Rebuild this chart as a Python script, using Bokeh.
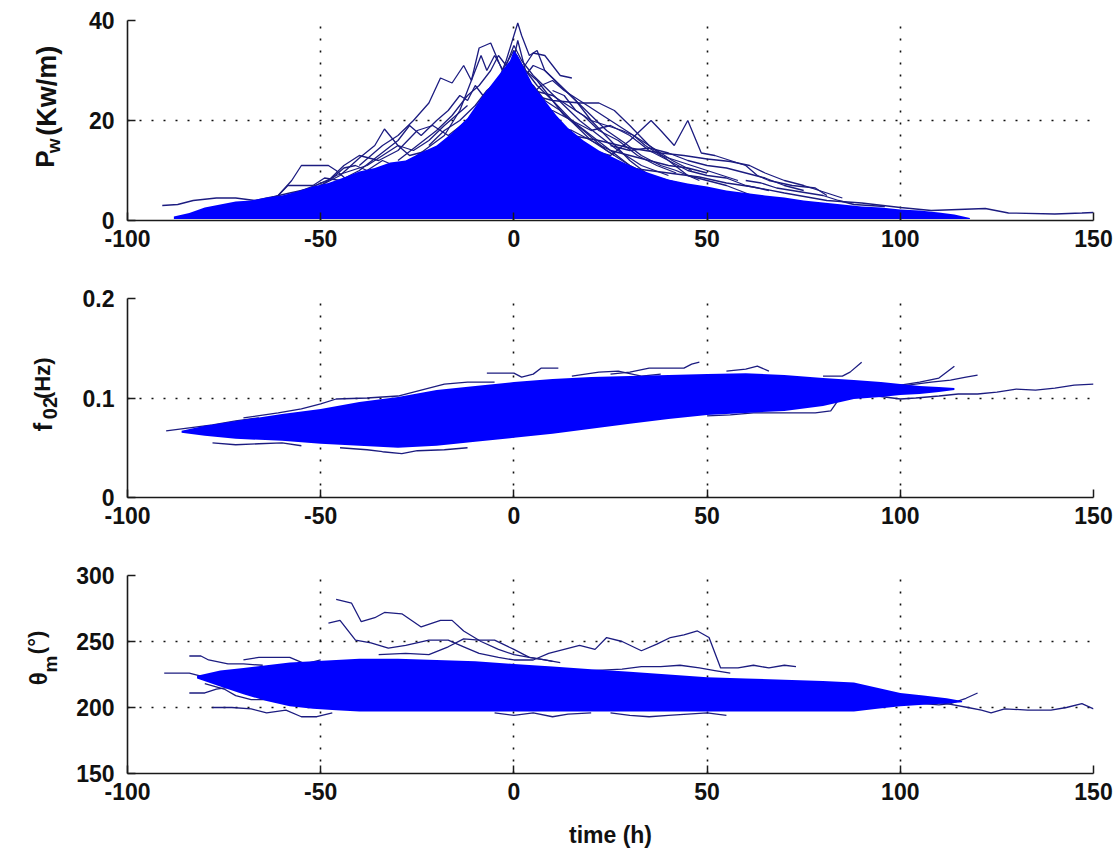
import math
from bokeh.plotting import figure
from bokeh.layouts import column, row
from bokeh.models import FixedTicker
from bokeh.core.properties import value
from bokeh.embed import file_html
from bokeh.resources import INLINE

# ---------------- data ----------------
TIME_TICKS = [-100, -50, 0, 50, 100, 150]
TIME_LABELS = {-100: "-100", -50: "-50", 0: "0", 50: "50", 100: "100", 150: "150"}

# Panel 1 : wave power Pw (Kw/m) -- dense core of the trajectories
PW_BAND_T = [-88, -84, -80, -76, -72, -68, -64, -60, -56, -52, -48, -44, -40, -36, -32, -28, -24, -20, -16, -12, -8, -5, -3, -1, 0, 1, 3, 5, 8, 11, 14, 18, 22, 26, 30, 35, 40, 45, 50, 55, 60, 65, 70, 75, 80, 85, 90, 95, 100, 105, 110, 114, 118]
PW_BAND_TOP = [0.8, 1.5, 2.6, 3.2, 3.8, 4.0, 4.6, 5.0, 5.8, 6.8, 7.5, 8.6, 9.8, 10.5, 11.6, 12.0, 13.6, 15.0, 17.5, 20.5, 25, 28, 30, 32, 34, 33, 30, 27, 24, 21, 18.5, 16, 14, 12.5, 11, 9.5, 8.2, 7.4, 6.8, 6.0, 5.5, 5.0, 4.6, 4.0, 3.6, 3.2, 2.8, 2.6, 2.2, 2.0, 1.6, 1.2, 0.5]
PW_BAND_BOT = [0.3] * len(PW_BAND_T)

# Panel 1 : individual trajectories (t [h], Pw)
PW_A = [(-40, 11), (-34, 15), (-30, 17), (-26, 20), (-22, 23.5), (-19, 28.5), (-16, 27.5), (-13, 31), (-11, 28), (-9, 34.5), (-6, 35.5), (-3, 30), (0, 34), (3, 30), (6, 27), (10, 24), (15, 20), (20, 17), (25, 14), (30, 11), (35, 9), (40, 7)]
PW_B = [(-20, 12), (-10, 20), (-5, 26), (-2, 32), (0, 37), (1, 39.5), (2, 37), (4, 33), (6, 34), (8, 30), (12, 27), (16, 24), (20, 20), (25, 16), (30, 12), (35, 9), (45, 7), (55, 5)]
PW_C = [(-15, 15), (-8, 22), (-3, 28), (2, 30), (5, 33.5), (8, 33), (10, 31), (12, 29), (15, 28.5)]
PW_D = [(-5, 20), (5, 25), (10, 24), (17, 23.5), (22, 23.5), (26, 22), (30, 19), (35, 15), (40, 12), (45, 9), (50, 8), (55, 7), (60, 5.5), (65, 4), (70, 3)]
PW_E = [(20, 14), (25, 13), (30, 16), (35.5, 20), (38, 18), (41.5, 15), (45, 20), (48.5, 13.5), (52, 13), (56, 12), (60, 11), (63, 9), (66, 8), (72, 7), (78, 6.5), (81, 5)]
PW_F = [(15, 17), (22, 16), (30, 14.5), (38, 13.5), (44, 13), (50, 12.3), (56, 11.8), (61, 11), (65, 9.5), (70, 8), (75, 7), (81, 5.5), (85, 4.5)]
PW_G = [(20, 12), (30, 10.5), (40, 9.5), (48, 8.7), (55, 7.5), (62, 6.7), (70, 5.5), (81, 4), (90, 3.5), (100, 2.6), (108, 2), (115, 2.2), (122, 2.4), (128, 1.5), (140, 1.3), (147, 1.5), (150, 1.6)]
PW_H = [(-75, 1.5), (-66, 2.5), (-61, 5), (-57.5, 8), (-55, 11), (-48, 11), (-46, 10), (-43, 8), (-38, 7), (-33, 6.5), (-28, 7)]
PW_I = [(-50, 7), (-45, 9), (-40, 12.5), (-36, 15), (-33.5, 18.3), (-30, 15), (-27, 13), (-22, 14), (-18, 12), (-14, 13), (-10, 11)]
PW_J = [(-62, 4), (-55, 6), (-48, 8), (-44, 11), (-40, 13), (-35, 12), (-30, 14), (-25, 18), (-21, 19), (-17, 17), (-12, 20), (-8, 24), (-4, 26), (0, 30), (3, 26), (6, 22)]
PW_K = [(-25, 13), (-18, 17), (-14, 22), (-11, 28), (-8.5, 33), (-7, 30), (-5, 33), (-2, 29), (0, 28), (3, 25), (7, 22), (12, 18), (18, 14), (24, 11), (30, 9)]
PW_L = [(-2, 25), (2, 28), (5, 31), (8, 30), (12, 27), (16, 24), (20, 21), (24, 18), (28.5, 15.6), (33, 13), (38, 11), (42, 10), (48, 8)]
PW_M = [(-66, 3), (-61, 5), (-58.5, 7), (-52, 7), (-49, 8.5), (-45, 8)]
PW_N = [(-91, 3), (-87, 3.2), (-83, 4), (-77, 4.5), (-72, 4.5), (-67, 4), (-62, 4.8), (-58, 5.5), (-52, 6.5)]
PW_O = [(-30, 8), (-20, 12), (-12, 16), (-6, 21), (-2, 25), (1, 27), (4, 24), (8, 20), (14, 16), (20, 13), (28, 10), (36, 8)]
PW_P = [(-15, 14), (-9, 19), (-4, 23), (-1, 29), (1, 36), (3, 30), (6, 28), (9, 25), (13, 21), (18, 18), (24, 14), (30, 11), (38, 8), (46, 6)]
PW_Q = [(-10, 16), (-6, 20), (-3, 24), (0, 33), (2, 27), (5, 23), (9, 19), (14, 15), (20, 12), (28, 9)]
PW_R = [(-45, 8), (-40, 10), (-35, 13), (-30, 16), (-27, 19), (-24, 17), (-20, 20), (-17, 22), (-14, 25), (-12, 24), (-10, 27), (-8, 25), (-5, 22), (-2, 20)]
PW_S = [(5, 20), (10, 22), (15, 20), (20, 18), (25, 19), (30, 17), (35, 14), (40, 12), (45, 10), (50, 9), (55, 8.5), (60, 7), (66, 6)]
PW_T = [(0, 22), (5, 26), (10, 25), (14, 23), (18, 21), (22, 18), (27, 16), (32, 13), (37, 11), (42, 9.5)]
PW_U = [(-60, 4), (-52, 6), (-46, 9), (-42, 10), (-38, 11), (-34, 13), (-30, 15), (-26, 14), (-22, 16), (-18, 19), (-15, 21), (-12, 23)]
PW_V = [(10, 26), (13, 25), (16, 22), (20, 20), (24, 19), (28, 18), (31, 17), (34, 15), (38, 13), (42, 12), (46, 11), (50, 10), (54, 9), (58, 8)]
PW_W = [(25, 15), (30, 14), (35, 14.5), (40, 13.5), (45, 12), (50, 11), (55, 10.5), (60, 9.5), (65, 8.5), (70, 7), (75, 6)]
PW_X = [(-35, 9), (-30, 11), (-26, 12.5), (-22, 11.8), (-19, 14), (-16, 16), (-13, 18), (-10, 17)]
PW_Y = [(60, 8), (64, 7.5), (68, 6.5), (72, 6), (76, 5.5), (80, 5), (84, 4), (88, 3.2), (92, 3), (96, 2.8)]
PW_Z = [(-55, 5.5), (-50, 7.5), (-47, 8.5), (-44, 10.5), (-41, 11), (-38, 10), (-34, 12), (-31, 11)]
PW_AA = [(-30, 12), (-25, 15), (-20, 18), (-16, 21), (-12, 25), (-9, 27), (-6, 30), (-4, 33), (-2, 31), (0, 35), (2, 32), (5, 29), (9, 26), (13, 23), (17, 20), (22, 17), (27, 14), (33, 11), (40, 9)]
PW_AB = [(-22, 15), (-18, 18), (-14, 20), (-10, 23), (-7, 26), (-4, 28), (-1, 26), (2, 29), (5, 27), (8, 24), (12, 22), (16, 19), (20, 16), (26, 13)]
PW_AC = [(3, 24), (7, 27), (10, 28), (13, 26), (17, 24), (21, 22), (25, 20), (29, 18), (33, 16), (37, 14), (41, 12), (46, 10)]
PW_AD = [(-8, 18), (-4, 21), (-1, 24), (2, 23), (6, 21), (10, 19), (15, 18), (20, 16), (25, 14), (30, 13), (35, 12), (40, 11), (45, 10.5), (50, 9.5)]
PW_LINES = [PW_A, PW_B, PW_C, PW_D, PW_E, PW_F, PW_G, PW_H, PW_I, PW_J, PW_K, PW_L, PW_M, PW_N,
            PW_O, PW_P, PW_Q, PW_R, PW_S, PW_T, PW_U, PW_V, PW_W, PW_X, PW_Y, PW_Z,
            PW_AA, PW_AB, PW_AC, PW_AD]

# Panel 2 : mean frequency f02 (Hz)
F_BAND_T = [-86, -80, -72, -60, -50, -40, -30, -20, -10, 0, 10, 20, 30, 40, 50, 60, 70, 80, 88, 95, 100, 105, 110, 114]
F_BAND_TOP = [0.067, 0.072, 0.077, 0.084, 0.089, 0.096, 0.101, 0.108, 0.112, 0.116, 0.119, 0.121, 0.122, 0.123, 0.124, 0.125, 0.123, 0.120, 0.118, 0.116, 0.114, 0.112, 0.111, 0.110]
F_BAND_BOT = [0.065, 0.062, 0.059, 0.057, 0.054, 0.052, 0.050, 0.052, 0.056, 0.060, 0.064, 0.069, 0.074, 0.079, 0.083, 0.085, 0.087, 0.092, 0.099, 0.101, 0.103, 0.104, 0.106, 0.108]

F_A = [(-70, 0.080), (-61, 0.085), (-55, 0.089), (-50, 0.094), (-46, 0.099), (-38, 0.100), (-30, 0.102), (-24, 0.108), (-18, 0.114), (-12, 0.116), (-5, 0.116)]
F_B = [(-7, 0.125), (0, 0.125), (2, 0.121), (5, 0.124), (7, 0.130), (11.5, 0.130)]
F_C = [(25, 0.124), (30, 0.126), (35, 0.130), (44, 0.130), (46, 0.134), (48, 0.136)]
F_D = [(15, 0.122), (22, 0.126), (27, 0.127), (33, 0.122), (38, 0.124)]
F_E = [(-45, 0.050), (-38, 0.048), (-34, 0.046), (-29, 0.044), (-25, 0.047), (-18, 0.048), (-12, 0.050)]
F_F = [(-78, 0.055), (-72, 0.053), (-66, 0.054), (-60, 0.055), (-55, 0.052)]
F_G = [(-90, 0.067), (-84, 0.070), (-78, 0.073), (-72, 0.077), (-66, 0.080)]
F_H = [(50, 0.082), (56, 0.083), (62, 0.085), (70, 0.085), (78, 0.085), (82, 0.087), (84, 0.098), (88, 0.101)]
F_I = [(90, 0.104), (96, 0.101), (100, 0.099), (104, 0.100), (110, 0.102), (115, 0.104), (120, 0.104), (125, 0.106), (130, 0.109), (135, 0.108), (140, 0.110), (145, 0.113), (150, 0.114)]
F_J = [(80, 0.122), (85, 0.122), (87, 0.126), (90, 0.136)]
F_K = [(100, 0.113), (105, 0.116), (110, 0.120), (114, 0.132)]
F_L = [(100, 0.112), (108, 0.116), (113, 0.118), (117, 0.121), (120, 0.123)]
F_M = [(55, 0.127), (60, 0.129), (63, 0.132), (66, 0.127)]
F_LINES = [F_A, F_B, F_C, F_D, F_E, F_F, F_G, F_H, F_I, F_J, F_K, F_L, F_M]

# Panel 3 : mean direction theta_m (deg)
D_BAND_T = [-82, -76, -70, -64, -58, -52, -46, -40, -30, -20, -10, 0, 10, 20, 30, 40, 50, 60, 70, 80, 88, 94, 100, 106, 112, 116]
D_BAND_TOP = [224, 228, 230, 232, 234, 235, 236, 237, 237, 236, 235, 233, 231, 229, 227, 225, 223, 222, 221, 220, 219, 215, 211, 209, 207, 205]
D_BAND_BOT = [222, 216, 210, 205, 201, 199, 198, 197, 197, 197, 197, 197, 197, 197, 197, 197, 197, 197, 197, 197, 197, 199, 201, 202, 203, 204]

D_A = [(-46, 282), (-42, 279), (-39.5, 265), (-36, 268), (-33.5, 272), (-29, 271), (-24, 261), (-19, 266), (-16, 266), (-13, 258), (-8.5, 250), (-4, 244), (0, 240), (4, 238), (8, 236), (10, 235)]
D_B = [(-48, 264), (-45, 266), (-41, 251), (-37, 249), (-32.5, 245), (-28, 247), (-22, 251), (-17, 251), (-13, 246), (-9, 241), (-4, 238), (0, 236), (5, 236), (9, 241), (13, 244), (17, 247), (21, 244), (24, 253), (28, 250), (33, 243), (37, 248), (40.5, 253), (44, 255), (47.5, 258), (50.5, 253), (53.5, 230), (58, 230), (62, 232), (66, 230), (70, 232), (73, 231)]
D_C = [(90, 210), (95, 208), (100, 206), (106, 205), (112, 203), (117.5, 200), (121, 198), (123.5, 196), (127, 199), (133, 198), (139, 198), (143, 200), (147, 203), (150, 199)]
D_D = [(100, 204), (106, 203), (110, 202), (113, 203), (117, 207), (120, 211)]
D_E = [(-90.5, 226), (-87, 226), (-84, 226), (-80, 223), (-76, 222), (-70, 221)]
D_F = [(-84, 239), (-81, 239), (-79, 236), (-74, 233), (-70, 233), (-65, 232)]
D_G = [(-84, 211), (-80, 211), (-77, 214), (-72, 216), (-68, 214)]
D_H = [(-78, 200), (-73, 200), (-68, 199), (-64, 196), (-59, 198), (-55, 193), (-51, 193), (-47, 196)]
D_I = [(-70, 236), (-66, 238), (-58, 238), (-54, 233), (-50, 236)]
D_J = [(-80, 218), (-75, 214), (-72, 209), (-68, 206), (-63, 206), (-58, 203)]
D_K = [(-35, 240), (-28, 241), (-22, 240), (-17, 246), (-13, 252), (-9, 251), (-5, 251), (0, 244), (4, 238), (8, 236), (12, 234)]
D_L = [(20, 228), (28, 229), (33, 231), (38, 231), (43, 232), (48, 230), (52, 228), (56, 226)]
D_M = [(-5, 196), (0, 194), (5, 196), (10, 193), (14, 195), (20, 196)]
D_N = [(25, 196), (30, 194), (35, 193), (40, 194), (45, 195), (50, 196), (55, 194)]
D_LINES = [D_A, D_B, D_C, D_D, D_E, D_F, D_G, D_H, D_I, D_J, D_K, D_L, D_M, D_N]

# y-axis label pieces: (text, font size)
PW_LABEL = [("P", "26px"), ("w", "19px"), ("(Kw/m)", "27px")]
F_LABEL = [("f", "26px"), ("02", "20px"), ("(Hz)", "22px")]
D_LABEL = [("θ", "24px"), ("m", "19px"), ("(°)", "22px")]

# ---------------- styling ----------------
LINE_COLOR = "#1c1c80"
CORE_COLOR = "#0000ff"
FONT = "Liberation Sans"
LAB_W = 72


def make_panel(height, top, bottom, y_range, yticks, overrides=None):
    p = figure(width=1120 - LAB_W, height=height, x_range=(-100, 150), y_range=y_range,
               min_border_left=127 - LAB_W, min_border_right=27,
               min_border_top=top, min_border_bottom=bottom,
               toolbar_location=None, output_backend="svg",
               background_fill_color="white", border_fill_color="white")
    p.outline_line_color = None
    p.xaxis.ticker = FixedTicker(ticks=TIME_TICKS)
    p.xaxis.major_label_overrides = TIME_LABELS
    p.yaxis.ticker = FixedTicker(ticks=yticks)
    if overrides:
        p.yaxis.major_label_overrides = overrides
    for ax in (p.xaxis[0], p.yaxis[0]):
        ax.major_tick_in = 8
        ax.major_tick_out = 0
        ax.major_tick_line_width = 1.5
        ax.major_tick_line_color = "#1a1a1a"
        ax.minor_tick_line_color = None
        ax.axis_line_width = 1.6
        ax.axis_line_color = "#1a1a1a"
        ax.major_label_text_font = FONT
        ax.major_label_text_font_size = "23px"
        ax.major_label_text_font_style = "bold"
        ax.major_label_text_color = "#111111"
    p.xaxis.major_label_standoff = 9
    p.yaxis.major_label_standoff = 13
    for g in (p.xgrid[0], p.ygrid[0]):
        g.grid_line_color = "#111111"
        g.grid_line_dash = "2 10"
        g.grid_line_width = 1.6
    return p


def draw(p, lines, bt, btop, bbot):
    xs = [[pt[0] for pt in ln] for ln in lines]
    ys = [[pt[1] for pt in ln] for ln in lines]
    p.multi_line(xs=xs, ys=ys, line_color=LINE_COLOR, line_width=1.3)
    p.varea(x=bt, y1=bbot, y2=btop, fill_color=CORE_COLOR, fill_alpha=1.0)


def label_fig(height, pieces, positions):
    """Narrow figure (pixel coordinates) holding the rotated y-axis label."""
    lf = figure(width=LAB_W, height=height, x_range=(0, LAB_W), y_range=(height, 0),
                min_border=0, x_axis_location=None, y_axis_location=None,
                toolbar_location=None, output_backend="svg",
                background_fill_color="white", border_fill_color="white")
    lf.outline_line_color = None
    lf.xgrid.visible = False
    lf.ygrid.visible = False
    for (txt, size), (x, y) in zip(pieces, positions):
        lf.text(x=[x], y=[y], text=[txt], angle=math.pi / 2,
                text_align="left", text_baseline="alphabetic",
                text_font=value(FONT), text_font_size=value(size),
                text_font_style="bold", text_color="#111111")
    return lf


H1, H2, H3 = 262, 277, 312

# Panel 1
p1 = make_panel(H1, 20, 42, (0, 40), [0, 20, 40])
draw(p1, PW_LINES, PW_BAND_T, PW_BAND_TOP, PW_BAND_BOT)
l1 = label_fig(H1, PW_LABEL, [(44, 193), (53, 174), (46, 151)])

# Panel 2
p2 = make_panel(H2, 36, 42, (0, 0.2), [0, 0.1, 0.2], {0: "0", 0.1: "0.1", 0.2: "0.2"})
draw(p2, F_LINES, F_BAND_T, F_BAND_TOP, F_BAND_BOT)
l2 = label_fig(H2, F_LABEL, [(42, 447 - H1), (49, 430 - H1), (42, 402 - H1)])

# Panel 3
p3 = make_panel(H3, 36, 78, (150, 300), [150, 200, 250, 300])
draw(p3, D_LINES, D_BAND_T, D_BAND_TOP, D_BAND_BOT)
l3 = label_fig(H3, D_LABEL, [(38, 712 - H1 - H2), (50, 692 - H1 - H2), (36, 663 - H1 - H2)])
p3.xaxis.axis_label = "time (h)"
p3.xaxis.axis_label_text_font = FONT
p3.xaxis.axis_label_text_font_size = "23px"
p3.xaxis.axis_label_text_font_style = "bold"
p3.xaxis.axis_label_text_color = "#111111"
p3.xaxis.axis_label_standoff = 19

layout = column(row(l1, p1, spacing=0), row(l2, p2, spacing=0), row(l3, p3, spacing=0), spacing=0)
open("out.html", "w").write(file_html(layout, INLINE))
